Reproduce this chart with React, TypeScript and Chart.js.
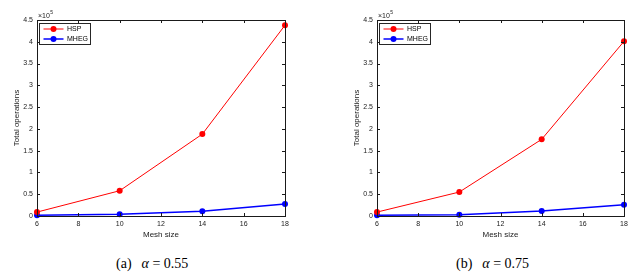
import React, { useEffect, useRef } from "react";
import { Chart, registerables } from "chart.js";

Chart.register(...registerables);

const meshSizes = [6, 10, 14, 18];
const hspA = [0.09, 0.58, 1.88, 4.38];
const mhegA = [0.016, 0.04, 0.11, 0.275];
const hspB = [0.09, 0.55, 1.76, 4.01];
const mhegB = [0.015, 0.03, 0.115, 0.26];
const seriesNames = ["HSP", "MHEG"];
const seriesColors = ["#ff0000", "#0000ff"];
const yMax = 4.5;
const yStep = 0.5;
const xMin = 6;
const xMax = 18;
const xStep = 2;
const exponentLabel = "5";

const AXIS_COLOR = "#1a1a1a";
const FONT = "'Liberation Sans', Arial, Helvetica, sans-serif";

const boxPlugin = {
  id: "matlabBox",
  afterDatasetsDraw(chart: any) {
    const { ctx, chartArea: a, scales } = chart;
    ctx.save();
    ctx.strokeStyle = AXIS_COLOR;
    ctx.lineWidth = 1;
    const tl = 3;
    ctx.beginPath();
    scales.x.ticks.forEach((t: any) => {
      const px = Math.round(scales.x.getPixelForValue(t.value)) + 0.5;
      ctx.moveTo(px, a.bottom);
      ctx.lineTo(px, a.bottom - tl);
      ctx.moveTo(px, a.top);
      ctx.lineTo(px, a.top + tl);
    });
    scales.y.ticks.forEach((t: any) => {
      const py = Math.round(scales.y.getPixelForValue(t.value)) + 0.5;
      ctx.moveTo(a.left, py);
      ctx.lineTo(a.left + tl, py);
      ctx.moveTo(a.right, py);
      ctx.lineTo(a.right - tl, py);
    });
    ctx.stroke();
    ctx.strokeRect(Math.round(a.left) + 0.5, Math.round(a.top) + 0.5, Math.round(a.right - a.left), Math.round(a.bottom - a.top));
    // exponent label
    ctx.fillStyle = AXIS_COLOR;
    ctx.textBaseline = "alphabetic";
    ctx.textAlign = "left";
    ctx.font = `7px ${FONT}`;
    ctx.fillText("\u00d710", a.left + 1, a.top - 2);
    const w = ctx.measureText("\u00d710").width;
    ctx.font = `5px ${FONT}`;
    ctx.fillText(exponentLabel, a.left + 1 + w + 0.5, a.top - 6);
    // legend
    const lx = Math.round(a.left) + 2.5;
    const ly = Math.round(a.top) + 3.5;
    const lw = 51;
    const lh = 21;
    ctx.fillStyle = "#ffffff";
    ctx.fillRect(lx, ly, lw, lh);
    ctx.strokeStyle = "#262626";
    ctx.lineWidth = 1;
    ctx.strokeRect(lx, ly, lw, lh);
    seriesNames.forEach((name, i) => {
      const cy = ly + 5.5 + i * 10;
      const col = seriesColors[i];
      ctx.strokeStyle = col;
      ctx.lineWidth = i === 0 ? 1 : 1.5;
      ctx.beginPath();
      ctx.moveTo(lx + 4, cy);
      ctx.lineTo(lx + 24, cy);
      ctx.stroke();
      ctx.fillStyle = col;
      ctx.beginPath();
      ctx.arc(lx + 14, cy, 3, 0, Math.PI * 2);
      ctx.fill();
      ctx.fillStyle = "#000000";
      ctx.font = `7px ${FONT}`;
      ctx.textBaseline = "middle";
      ctx.fillText(name, lx + 27.5, cy + 0.5);
    });
    ctx.restore();
  },
};

const fmt = (v: any) => String(Number(Number(v).toFixed(1)));

function MiniChart({ hsp, mheg, width, height, yAxisWidth, rightPad }: any) {
  const ref = useRef<HTMLCanvasElement>(null);
  useEffect(() => {
    if (!ref.current) return;
    const chart = new Chart(ref.current, {
      type: "line",
      data: {
        datasets: [
          {
            label: seriesNames[0],
            data: meshSizes.map((x, i) => ({ x, y: hsp[i] })),
            borderColor: seriesColors[0],
            backgroundColor: seriesColors[0],
            borderWidth: 1,
            pointRadius: 3,
            pointBorderWidth: 0,
            pointBackgroundColor: seriesColors[0],
            tension: 0,
            clip: false as any,
          },
          {
            label: seriesNames[1],
            data: meshSizes.map((x, i) => ({ x, y: mheg[i] })),
            borderColor: seriesColors[1],
            backgroundColor: seriesColors[1],
            borderWidth: 1.5,
            pointRadius: 3,
            pointBorderWidth: 0,
            pointBackgroundColor: seriesColors[1],
            tension: 0,
            clip: false as any,
          },
        ],
      },
      options: {
        animation: false,
        responsive: false,
        devicePixelRatio: 1,
        layout: { padding: { top: 20, right: rightPad, left: 0, bottom: 0 } },
        plugins: { legend: { display: false }, tooltip: { enabled: false } },
        scales: {
          x: {
            type: "linear",
            min: xMin,
            max: xMax,
            ticks: { stepSize: xStep, padding: 4, color: AXIS_COLOR, font: { family: FONT, size: 7 }, callback: fmt },
            grid: { display: false, drawTicks: false },
            border: { display: false },
            title: { display: true, text: "Mesh size", color: AXIS_COLOR, font: { family: FONT, size: 8 }, padding: { top: 0, bottom: 0 } },
            afterFit: (s: any) => {
              s.height = height - 216;
            },
          },
          y: {
            type: "linear",
            min: 0,
            max: yMax,
            ticks: { stepSize: yStep, padding: 4, color: AXIS_COLOR, font: { family: FONT, size: 7 }, callback: fmt },
            grid: { display: false, drawTicks: false },
            border: { display: false },
            title: {
              display: true,
              text: "Total operations",
              color: AXIS_COLOR,
              font: { family: FONT, size: 8 },
              padding: { top: yAxisWidth - 20.5 - 4.8, bottom: 0 },
            },
            afterFit: (s: any) => {
              s.width = yAxisWidth;
            },
          },
        },
      },
      plugins: [boxPlugin],
    } as any);
    return () => chart.destroy();
  }, []);
  return <canvas ref={ref} width={width} height={height} style={{ display: "block", width, height }} />;
}

const captionStyle: React.CSSProperties = {
  position: "absolute",
  top: 256,
  fontFamily: "'Liberation Serif', 'Times New Roman', serif",
  fontSize: 14,
  color: "#000",
  whiteSpace: "nowrap",
  lineHeight: "16px",
};

export default function App() {
  return (
    <div style={{ position: "absolute", left: 0, top: 0, width: 639, height: 274, background: "#fff", overflow: "hidden" }}>
      <div style={{ position: "absolute", left: 0, top: 0 }}>
        <MiniChart hsp={hspA} mheg={mhegA} width={320} height={240} yAxisWidth={37} rightPad={35} />
      </div>
      <div style={{ position: "absolute", left: 320, top: 0 }}>
        <MiniChart hsp={hspB} mheg={mhegB} width={319} height={240} yAxisWidth={57} rightPad={15} />
      </div>
      <div style={{ ...captionStyle, left: 116 }}>
        (a)<span style={{ marginLeft: 10, fontStyle: "italic" }}>α</span> = 0.55
      </div>
      <div style={{ ...captionStyle, left: 456 }}>
        (b)<span style={{ marginLeft: 10, fontStyle: "italic" }}>α</span> = 0.75
      </div>
    </div>
  );
}
